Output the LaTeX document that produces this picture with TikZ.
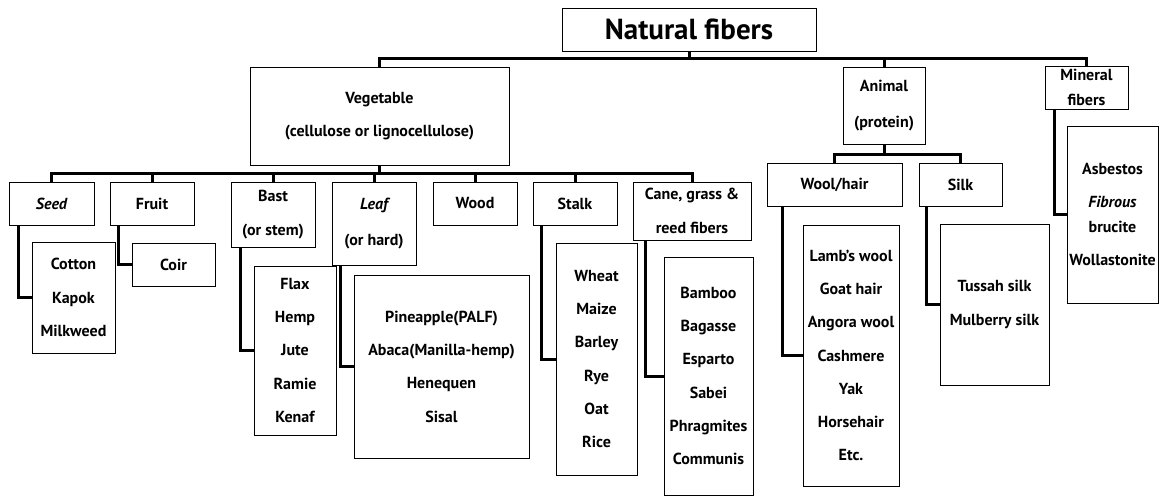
\documentclass[tikz,border=0pt]{standalone}
\usepackage{fontspec}
\setmainfont{PT Sans}
\usetikzlibrary{calc}
\newcommand{\lblfont}{\fontsize{16}{33.3}\selectfont\bfseries}
\tikzset{
  box/.style={draw, line width=0.8pt, inner sep=0pt, align=center, font=\lblfont},
  conn/.style={line width=3pt},
}
\begin{document}
\begin{tikzpicture}[x=1pt,y=-1pt]
\useasboundingbox (0,0) rectangle (1160,497);
% level 0
\node[box, minimum width=254, minimum height=43, font=\fontsize{29}{32}\selectfont\bfseries] (nf) at (689,29.5) {Natural fibers};
% level 1
\node[box, minimum width=259, minimum height=98] (veg) at (379.5,116) {Vegetable\\(cellulose or lignocellulose)};
\node[box, minimum width=82, minimum height=77] (animal) at (884,105.5) {Animal\\[2pt](protein)};
\node[box, minimum width=83, minimum height=43] (mineral) at (1086.5,87.5) {Mineral\\[-9pt]fibers};
% level 2 vegetable
\node[box, minimum width=85, minimum height=43] (seed) at (51.5,203.5) {\itshape Seed};
\node[box, minimum width=84, minimum height=43] (fruit) at (152,203.5) {Fruit};
\node[box, minimum width=84, minimum height=65] (bast) at (273,214.5) {Bast\\[1pt](or stem)};
\node[box, minimum width=84, minimum height=83] (leaf) at (374,223.5) {\itshape Leaf\\[2pt](or hard)};
\node[box, minimum width=84, minimum height=43] (wood) at (475,203.5) {Wood};
\node[box, minimum width=84, minimum height=43] (stalk) at (575,203.5) {Stalk};
\node[box, minimum width=118, minimum height=58] (cane) at (692,211) {Cane, grass \&\\reed fibers};
% level 2 animal
\node[box, minimum width=135, minimum height=43] (wool) at (834.5,184.5) {Wool/hair};
\node[box, minimum width=83, minimum height=43] (silk) at (960.5,184.5) {Silk};
% level 3 lists
\node[box, minimum width=83, minimum height=111] (cotton) at (73.5,297.5) {Cotton\\Kapok\\Milkweed};
\node[box, minimum width=83, minimum height=43] (coir) at (173.5,264.5) {Coir};
\node[box, minimum width=82, minimum height=169] (flax) at (295,350.5) {Flax\\Hemp\\Jute\\Ramie\\Kenaf};
\node[box, minimum width=175, minimum height=183] (pine) at (441.5,366.5) {Pineapple(PALF)\\Abaca(Manilla-hemp)\\Henequen\\Sisal};
\node[box, minimum width=81, minimum height=232] (wheat) at (596.5,359) {Wheat\\Maize\\Barley\\Rye\\Oat\\Rice};
\node[box, minimum width=89, minimum height=238] (bamboo) at (708.5,376) {Bamboo\\Bagasse\\Esparto\\Sabei\\Phragmites\\Communis};
\node[box, minimum width=96, minimum height=261] (lamb) at (851,355.5) {Lamb’s wool\\Goat hair\\Angora wool\\Cashmere\\Yak\\Horsehair\\Etc.};
\node[box, minimum width=109, minimum height=161] (tussah) at (994.5,304.5) {Tussah silk\\Mulberry silk};
\node[box, minimum width=91, minimum height=177] (asb) at (1112.5,214.5) {Asbestos\\{\itshape Fibrous}\\[-8pt]brucite\\Wollastonite};
% connectors level 0 -> 1
\draw[conn] (nf.south) -- ++(0,7) -| (veg.north);
\draw[conn] (nf.south) -- ++(0,7) -| (animal.north);
\draw[conn] (nf.south) -- ++(0,7) -| (mineral.north);
% vegetable -> children
\foreach \c in {seed,fruit,bast,leaf,wood,stalk,cane}
  \draw[conn] (veg.south) -- ++(0,8) -| (\c.north);
% animal -> children
\foreach \c in {wool,silk}
  \draw[conn] (animal.south) -- ++(0,10) -| (\c.north);
% category -> lists
\draw[conn] ($(seed.south west)+(10,0)$) |- (cotton.west);
\draw[conn] ($(fruit.south west)+(9,0)$) |- (coir.west);
\draw[conn] ($(bast.south west)+(10,0)$) |- (flax.west);
\draw[conn] ($(leaf.south west)+(9,0)$) |- (pine.west);
\draw[conn] ($(stalk.south west)+(9,0)$) |- (wheat.west);
\draw[conn] ($(cane.south west)+(13,0)$) |- (bamboo.west);
\draw[conn] ($(wool.south west)+(16,0)$) |- (lamb.west);
\draw[conn] ($(silk.south west)+(8,0)$) |- (tussah.west);
\draw[conn] ($(mineral.south west)+(10,0)$) |- (asb.west);
\end{tikzpicture}
\end{document}
